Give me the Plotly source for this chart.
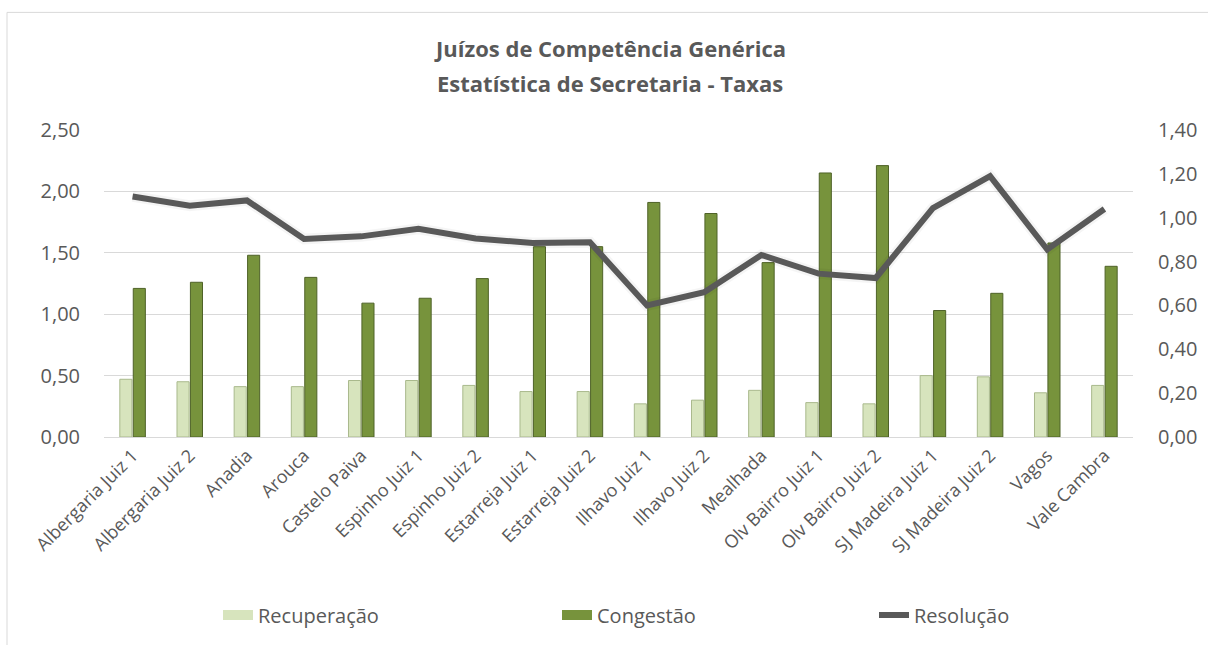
import plotly.graph_objects as go

# Secretaria statistics per court (Juízos de Competência Genérica)
juizos = [
    "Albergaria Juiz 1", "Albergaria Juiz 2", "Anadia", "Arouca", "Castelo Paiva",
    "Espinho Juiz 1", "Espinho Juiz 2", "Estarreja Juiz 1", "Estarreja Juiz 2",
    "Ilhavo Juiz 1", "Ilhavo Juiz 2", "Mealhada", "Olv Bairro Juiz 1",
    "Olv Bairro Juiz 2", "SJ Madeira Juiz 1", "SJ Madeira Juiz 2", "Vagos", "Vale Cambra",
]
recuperacao = [0.47, 0.45, 0.41, 0.41, 0.46, 0.46, 0.42, 0.37, 0.37,
               0.27, 0.30, 0.38, 0.28, 0.27, 0.50, 0.49, 0.36, 0.42]
congestao = [1.21, 1.26, 1.48, 1.30, 1.09, 1.13, 1.29, 1.55, 1.55,
             1.91, 1.82, 1.42, 2.15, 2.21, 1.03, 1.17, 1.58, 1.39]
resolucao = [1.097, 1.055, 1.079, 0.903, 0.915, 0.949, 0.905, 0.885, 0.888,
             0.60, 0.66, 0.83, 0.745, 0.725, 1.044, 1.19, 0.855, 1.04]

left_ticks = [0, 0.5, 1.0, 1.5, 2.0, 2.5]
right_ticks = [0, 0.2, 0.4, 0.6, 0.8, 1.0, 1.2, 1.4]

GREY = "#595959"
LIGHT = "#d7e4bd"
LIGHT_EDGE = "#a9b98c"
DARK = "#77933c"
DARK_EDGE = "#4f6228"
FONT = "Open Sans"

W, H = 1208, 645
L, R, T, B = 104, 1133, 130, 438  # plot area in pixels


def px_x(px):
    return (px - L) / (R - L)


def px_y(py):
    return (B - py) / (B - T)


fig = go.Figure()
fig.add_trace(go.Bar(
    x=juizos, y=recuperacao, name="Recuperação",
    marker=dict(color=LIGHT, line=dict(color=LIGHT_EDGE, width=1)),
    showlegend=False,
))
fig.add_trace(go.Bar(
    x=juizos, y=congestao, name="Congestão",
    marker=dict(color=DARK, line=dict(color=DARK_EDGE, width=1)),
    showlegend=False,
))
# faint soft edge around the resolution line
fig.add_trace(go.Scatter(
    x=juizos, y=resolucao, yaxis="y2", mode="lines",
    line=dict(color="rgba(0,0,0,0.04)", width=11),
    hoverinfo="skip", showlegend=False,
))
fig.add_trace(go.Scatter(
    x=juizos, y=resolucao, name="Resolução", yaxis="y2", mode="lines",
    line=dict(color=GREY, width=6),
    legend="legend3",
))

# wide swatches for the bar series in the legend
fig.add_trace(go.Scatter(
    x=[None], y=[None], name="Recuperação", mode="lines",
    line=dict(color=LIGHT, width=14), legend="legend",
))
fig.add_trace(go.Scatter(
    x=[None], y=[None], name="Congestão", mode="lines",
    line=dict(color=DARK, width=14), legend="legend2",
))

legend_common = dict(
    orientation="h", yanchor="middle", xanchor="left",
    font=dict(family=FONT, size=20, color=GREY),
    bgcolor="rgba(0,0,0,0)",
)

fig.update_layout(
    width=W, height=H,
    margin=dict(l=L, r=W - R, t=T, b=H - B),
    paper_bgcolor="white", plot_bgcolor="white",
    separators=",.",
    barmode="group", bargap=0.53, bargroupgap=0.1,
    font=dict(family=FONT, color=GREY),
    xaxis=dict(
        tickangle=-45, tickfont=dict(size=18, color=GREY),
        showgrid=False, showline=True, linecolor="#d9d9d9", linewidth=1,
        ticks="",
    ),
    yaxis=dict(
        range=[0, 2.5], tickvals=left_ticks, tickformat=".2f",
        tickfont=dict(size=20, color=GREY),
        showgrid=True, gridcolor="#d9d9d9", gridwidth=1,
        zeroline=False, showline=False, ticks="", ticklabelstandoff=23,
    ),
    yaxis2=dict(
        range=[0, 1.4], tickvals=right_ticks, tickformat=".2f",
        tickfont=dict(size=20, color=GREY),
        overlaying="y", side="right", showgrid=False,
        zeroline=False, showline=False, ticks="", ticklabelstandoff=24,
    ),
    legend=dict(x=px_x(218), y=px_y(615), **legend_common),
    legend2=dict(x=px_x(557), y=px_y(615), **legend_common),
    legend3=dict(x=px_x(874), y=px_y(615), **legend_common),
    showlegend=True,
)

# chart frame
fig.add_shape(
    type="rect", xref="paper", yref="paper",
    x0=px_x(7), x1=px_x(1215), y0=px_y(660), y1=px_y(12),
    line=dict(color="#d9d9d9", width=1), fillcolor="rgba(0,0,0,0)", layer="below",
)

# two-line title
for text, py in [("Juízos de Competência Genérica", 48), ("Estatística de Secretaria - Taxas", 83)]:
    fig.add_annotation(
        text=f"<b>{text}</b>", xref="paper", yref="paper",
        x=px_x(610), y=px_y(py), xanchor="center", yanchor="middle",
        showarrow=False, font=dict(family=FONT, size=22, color=GREY),
    )

fig.write_html("out.html")
